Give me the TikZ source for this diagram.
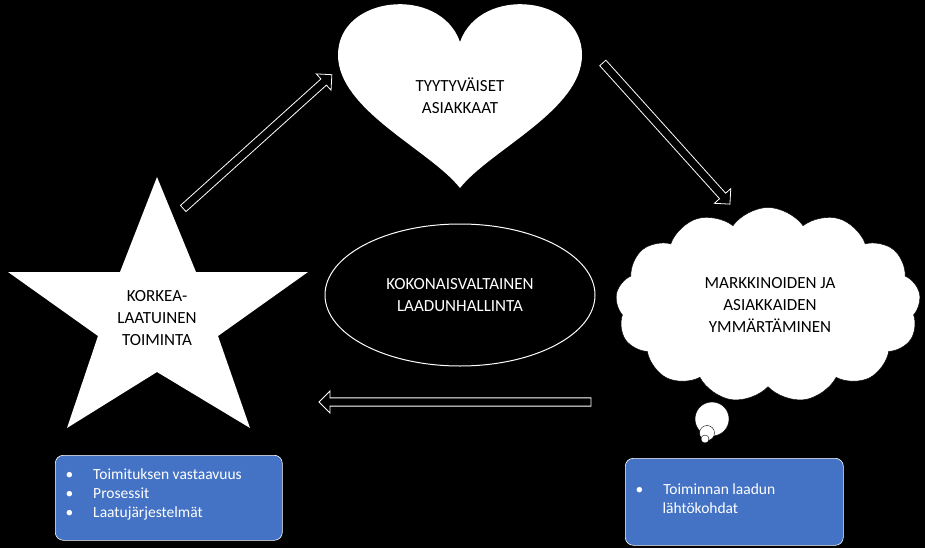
\documentclass[tikz,border=0pt]{standalone}
\usepackage{fontspec}
\setmainfont{Carlito}
\usetikzlibrary{shapes.symbols,shapes.arrows,shapes.geometric}
\definecolor{boxblue}{HTML}{4472C4}
\begin{document}
\begin{tikzpicture}[x=1pt,y=-1pt,
  lbl/.style={font=\fontsize{17}{22}\selectfont,align=center,text=black},
  harrow/.style={single arrow,draw=white,line width=0.8pt,fill=black,minimum width=22pt,single arrow head extend=4pt,single arrow head indent=0pt,inner sep=2pt},
  bluebox/.style={draw=white,fill=boxblue,rounded corners=8pt,line width=0.6pt},
  btext/.style={text=white,font=\fontsize{15.5}{19}\selectfont,align=left,anchor=north west}]
\fill[black] (0,0) rectangle (925,548);
\useasboundingbox (0,0) rectangle (925,548);
% star
\fill[white] (157,177) -- (196,272) -- (308,272) -- (218,336) -- (250,428) -- (157,372) -- (67,428) -- (98,336) -- (8,272) -- (120,272) -- cycle;
\node[lbl] (star) at (157,318) {KORKEA-\\LAATUINEN\\TOIMINTA};
% heart
\fill[white] (460,188) .. controls (430,150) and (338,110) .. (338,55) .. controls (338,-5) and (440,-15) .. (460,42) .. controls (480,-15) and (582,-5) .. (582,55) .. controls (582,110) and (490,150) .. (460,188) -- cycle;
\node[lbl] (heart) at (460,96) {TYYTYVÄISET\\ASIAKKAAT};
% ellipse
\node[ellipse,draw=white,fill=black,line width=1pt,minimum width=270pt,minimum height=142pt,text=white,font=\fontsize{17}{22}\selectfont,align=center] (tqm) at (460,295) {KOKONAISVALTAINEN\\LAADUNHALLINTA};
% cloud
\node[cloud,cloud puffs=13,cloud puff arc=110,aspect=1.6,fill=white,draw=black,minimum width=305pt,minimum height=195pt] (cloud) at (768,305) {};
\node[lbl] (cloudtext) at (770,305) {MARKKINOIDEN JA\\ASIAKKAIDEN\\YMMÄRTÄMINEN};
\node[circle,fill=white,draw=black,minimum size=34pt,inner sep=0] (b1) at (712,419) {};
\node[circle,fill=white,draw=black,minimum size=15pt,inner sep=0] (b2) at (707,433) {};
\node[circle,fill=white,draw=black,minimum size=8pt,inner sep=0] (b3) at (705,439) {};
% arrows
\node[harrow,minimum height=200pt,rotate=42] (a1) at (256,143) {};
\node[harrow,minimum height=190pt,rotate=-48] (a2) at (665,132) {};
\node[harrow,minimum height=272pt,rotate=180] (a3) at (457,402) {};
% boxes
\node[bluebox,minimum width=227pt,minimum height=85pt,anchor=north west] (lbox) at (55,455) {};
\node[btext] (ltext) at (62,465) {\textbullet\hspace{20pt}Toimituksen vastaavuus\\\textbullet\hspace{20pt}Prosessit\\\textbullet\hspace{20pt}Laatujärjestelmät};
\node[bluebox,minimum width=218pt,minimum height=87pt,anchor=north west] (rbox) at (625,458) {};
\node[btext] (rtext) at (632,480) {\textbullet\hspace{20pt}Toiminnan laadun\\\hspace{27pt}lähtökohdat};
\end{tikzpicture}
\end{document}
